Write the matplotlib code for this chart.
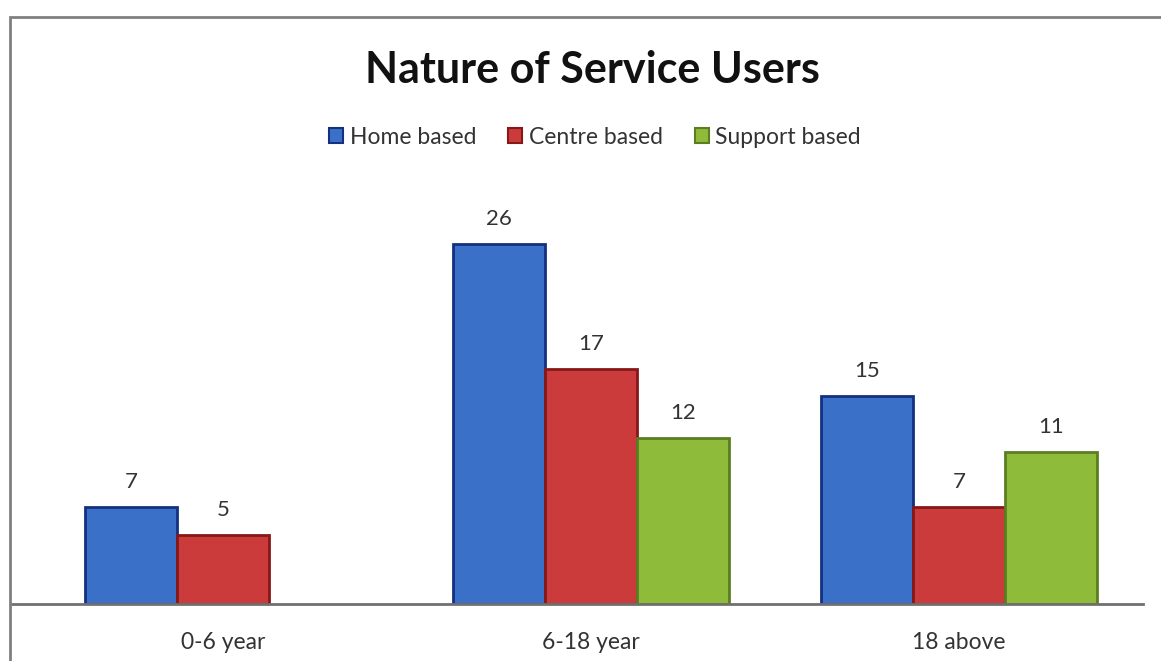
import numpy as np
import matplotlib.pyplot as plt
from matplotlib.patches import Rectangle, Patch

plt.rcParams['font.family'] = ['Lato', 'DejaVu Sans']

categories = ["0-6 year", "6-18 year", "18 above"]
home = [7, 26, 15]
centre = [5, 17, 7]
support = [0, 12, 11]   # no support based users in 0-6 year

series = [("Home based", home, "#3b70c8", "#14307e"),
          ("Centre based", centre, "#cc3b3b", "#861818"),
          ("Support based", support, "#8fbb3a", "#5c7d22")]

W, H = 1161, 661
fig = plt.figure(figsize=(W / 100, H / 100), dpi=100)
fig.patch.set_facecolor("white")

# outer chart frame (cut off on right and bottom like the screenshot)
fig.add_artist(Rectangle((10 / W, -0.1), 1.2, 1.1 - 17 / H, transform=fig.transFigure,
                         fill=False, edgecolor="#808080", linewidth=2))

ax = fig.add_axes([12 / W, 57 / H, (1143 - 12) / W, (604 - 200) / H])

x = np.arange(len(categories))
bw = 0.25
handles = []
for i, (name, vals, col, edge) in enumerate(series):
    pos = x + (i - 1) * bw
    bars = ax.bar(pos, vals, bw, color=col, edgecolor=edge, linewidth=2)
    handles.append(Patch(facecolor=col, edgecolor=edge, linewidth=1.5, label=name))
    for b, v in zip(bars, vals):
        if v == 0:
            b.set_visible(False)
            continue
        ax.annotate(str(v), (b.get_x() + b.get_width() / 2, v), xytext=(0, 11),
                    textcoords="offset points", ha="center", va="bottom",
                    fontsize=16, color="#333333")

ax.set_xlim(-0.573, 2.5)
ax.set_ylim(0, 29.2)
ax.set_xticks(x)
ax.set_xticklabels(categories, fontsize=16.5, color="#333333")
ax.tick_params(axis="x", length=0, pad=20)
ax.set_yticks([])
for s in ["top", "right", "left"]:
    ax.spines[s].set_visible(False)
ax.spines["bottom"].set_color("#707070")
ax.spines["bottom"].set_linewidth(2)
ax.set_facecolor("none")

fig.text(592 / W, 1 - 70 / H, "Nature of Service Users", ha="center", va="center",
         fontsize=31, fontweight="bold", color="#111111")

fig.legend(handles=handles, loc="center", bbox_to_anchor=(595 / W, 1 - 137 / H), ncol=3,
           frameon=False, fontsize=16.5, handlelength=0.6, handleheight=0.6,
           handletextpad=0.3, columnspacing=1.4, labelcolor="#333333")

fig.savefig("out.png", dpi=100)
